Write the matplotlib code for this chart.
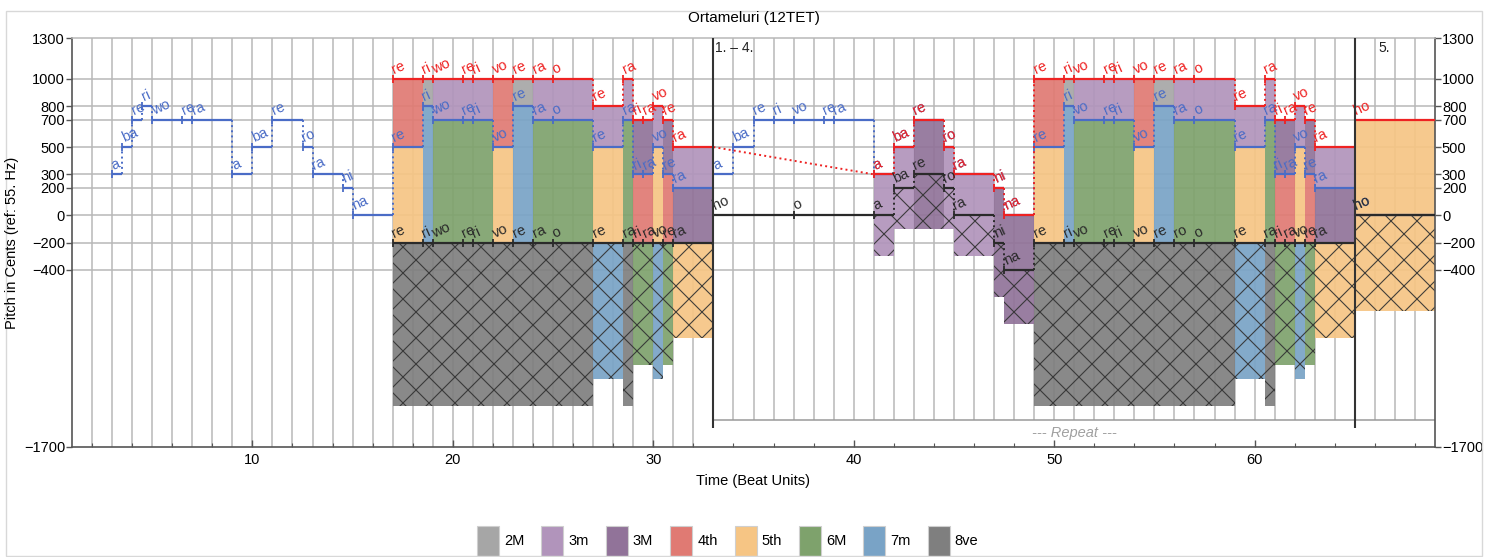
import matplotlib
matplotlib.use('Agg')
import matplotlib.pyplot as plt
from matplotlib.patches import Rectangle

# Render at dpi 78 so that the 'x' hatch spacing matches the reference;
# S converts sizes that were tuned for dpi 100 into points at dpi 78.
DPI = 78
S = 100 / DPI

plt.rcParams['font.family'] = ['Liberation Sans', 'DejaVu Sans']
plt.rcParams['hatch.linewidth'] = 0.8 * S

TITLE = "Ortameluri (12TET)"
YLABEL = "Pitch in Cents (ref: 55. Hz)"
XLABEL = "Time (Beat Units)"
yticks = [1300, 1000, 800, 700, 500, 300, 200, 0, -200, -400, -1700]
xticks = [10, 20, 30, 40, 50, 60]

interval_names = ['2M', '3m', '3M', '4th', '5th', '6M', '7m', '8ve']
interval_cents = [200, 300, 400, 500, 700, 900, 1000, 1200]
interval_colors = ['#a6a6a6', '#b194bb', '#917399', '#e07a73',
                   '#f6c584', '#7ea26c', '#79a3c6', '#7f7f7f']

END_TIME = 69

# ---- middle voice (blue, melody) ----
mid_starts = [3, 3.5, 4, 4.5, 5, 6.5, 7, 9, 10, 11, 12.5, 13, 14.5, 15,
              17, 18.5, 19, 20.5, 21, 22, 23, 24, 25, 27, 28.5, 29, 29.5, 30, 30.5, 31,
              33, 34, 35, 36, 37, 38.5, 39, 41, 42, 43, 44.5, 45, 47, 47.5,
              49, 50.5, 51, 52.5, 53, 54, 55, 56, 57, 59, 60.5, 61, 61.5, 62, 62.5, 63,
              65]
mid_pitch = [300, 500, 700, 800, 700, 700, 700, 300, 500, 700, 500, 300, 200, 0,
             500, 800, 700, 700, 700, 500, 800, 700, 700, 500, 700, 300, 300, 500, 300, 200,
             300, 500, 700, 700, 700, 700, 700, 300, 500, 700, 500, 300, 200, 0,
             500, 800, 700, 700, 700, 500, 800, 700, 700, 500, 700, 300, 300, 500, 300, 200,
             0]
mid_syll = ['a', 'ba', 're', 'ri', 'wo', 're', 'ra', 'a', 'ba', 're', 'ro', 'ra', 'ni', 'na',
            're', 'ri', 'wo', 're', 'ri', 'vo', 're', 'ra', 'o', 're', 'ra', 'ri', 'ra', 'vo', 're', 'ra',
            'a', 'ba', 're', 'ri', 'vo', 're', 'ra', 'a', 'ba', 're', 'ro', 'ra', 'ni', 'na',
            're', 'ri', 'vo', 're', 'ri', 'vo', 're', 'ra', 'o', 're', 'ra', 'ri', 'ra', 'vo', 're', 'ra',
            'ho']

# ---- top voice (red) ; None = rest ----
top_starts = [17, 18.5, 19, 20.5, 21, 22, 23, 24, 25, 27, 28.5, 29, 29.5, 30, 30.5, 31,
              33,
              41, 42, 43, 44.5, 45, 47, 47.5,
              49, 50.5, 51, 52.5, 53, 54, 55, 56, 57, 59, 60.5, 61, 61.5, 62, 62.5, 63,
              65]
top_pitch = [1000, 1000, 1000, 1000, 1000, 1000, 1000, 1000, 1000, 800, 1000, 700, 700, 800, 700, 500,
             None,
             300, 500, 700, 500, 300, 200, 0,
             1000, 1000, 1000, 1000, 1000, 1000, 1000, 1000, 1000, 800, 1000, 700, 700, 800, 700, 500,
             700]
top_syll = ['re', 'ri', 'wo', 're', 'ri', 'vo', 're', 'ra', 'o', 're', 'ra', 'ri', 'ra', 'vo', 're', 'ra',
            '',
            'a', 'ba', 're', 'ro', 'ra', 'ni', 'na',
            're', 'ri', 'vo', 're', 'ri', 'vo', 're', 'ra', 'o', 're', 'ra', 'ri', 'ra', 'vo', 're', 'ra',
            'ho']

# ---- bottom voice (black) ----
bot_starts = [17, 18.5, 19, 20.5, 21, 22, 23, 24, 25, 27, 28.5, 29, 29.5, 30, 30.5, 31,
              33, 37, 41, 42, 43, 44.5, 45, 47, 47.5,
              49, 50.5, 51, 52.5, 53, 54, 55, 56, 57, 59, 60.5, 61, 61.5, 62, 62.5, 63,
              65]
bot_pitch = [-200, -200, -200, -200, -200, -200, -200, -200, -200, -200, -200, -200, -200, -200, -200, -200,
             0, 0, 0, 200, 300, 200, 0, -200, -400,
             -200, -200, -200, -200, -200, -200, -200, -200, -200, -200, -200, -200, -200, -200, -200, -200,
             0]
bot_syll = ['re', 'ri', 'wo', 're', 'ri', 'vo', 're', 'ra', 'o', 're', 'ra', 'ri', 'ra', 'vo', 're', 'ra',
            'ho', 'o', 'a', 'ba', 're', 'ro', 'ra', 'ni', 'na',
            're', 'ri', 'vo', 're', 'ri', 'vo', 're', 'ro', 'o', 're', 'ra', 'ri', 'ra', 'vo', 're', 'ra',
            'ho']

TOP_COLOR = '#ee2222'
MID_COLOR = '#4a6cc6'
BOT_COLOR = '#2a2a2a'

W, H = 1496, 557
fig = plt.figure(figsize=(W / DPI, H / DPI), dpi=DPI)
L, R, T, B = 72, 1435, 38, 447
ax = fig.add_axes([L / W, 1 - B / H, (R - L) / W, (B - T) / H])
ax.set_xlim(1, END_TIME)
ax.set_ylim(-1700, 1300)

# grid
GRID = '#b8b8b8'
ax.vlines(list(range(2, 33)), -1700, 1300, color=GRID, lw=1.1 * S, zorder=0.5)
ax.vlines(list(range(34, 69)), -1500, 1300, color=GRID, lw=1.1 * S, zorder=0.5)
ax.hlines(yticks[1:-1], 1, END_TIME, color=GRID, lw=1.1 * S, zorder=0.5)
ax.hlines(-1500, 33, END_TIME, color='#9a9a9a', lw=1.1 * S, zorder=0.6)


def color_for(interval):
    return interval_colors[interval_cents.index(interval)]


def pitch_at(starts, pitches, t):
    ends = starts[1:] + [END_TIME]
    for s, e, p in zip(starts, ends, pitches):
        if s <= t < e:
            return p
    return None


# interval fills
bounds = sorted(set(top_starts + mid_starts + bot_starts + [END_TIME]))
for a, b in zip(bounds[:-1], bounds[1:]):
    m = (a + b) / 2
    tp = pitch_at(top_starts, top_pitch, m)
    mp = pitch_at(mid_starts, mid_pitch, m)
    bp = pitch_at(bot_starts, bot_pitch, m)
    if tp is None or mp is None or bp is None:
        continue
    if tp > mp:
        ax.fill_between([a, b], mp, tp, facecolor=color_for(tp - mp), alpha=0.92, lw=0, zorder=1)
    if mp > bp:
        ax.fill_between([a, b], bp, mp, facecolor=color_for(mp - bp), alpha=0.92, lw=0, zorder=1)
    outer = tp - bp
    if outer > 0:
        ax.fill_between([a, b], bp - outer, bp, facecolor=color_for(outer), alpha=0.92,
                        hatch='x', edgecolor=(0.2, 0.2, 0.2, 0.5), lw=0, zorder=1)


def draw_voice(starts, pitches, sylls, color, z):
    ends = starts[1:] + [END_TIME]
    prev = None
    for s, e, p, lab in zip(starts, ends, pitches, sylls):
        if p is None:
            continue
        ax.plot([s, e], [p, p], color=color, lw=1.6 * S, solid_capstyle='butt', zorder=z)
        ax.plot([s], [p], marker='|', ms=6 * S, mew=1.3 * S, color=color, zorder=z)
        if prev is not None:
            px, pp = prev
            if px == s:
                if pp != p:
                    ax.plot([s, s], [pp, p], ':', color=color, lw=1.4 * S, zorder=z)
            else:
                ax.plot([px, s], [pp, p], ':', color=color, lw=1.4 * S, zorder=z)
        prev = (e, p)
        ax.annotate(lab, (s, p), xytext=(2 * S, 1.5 * S), textcoords='offset points',
                    rotation=24, rotation_mode='anchor', ha='left', va='bottom',
                    color=color, fontsize=10.5 * S, zorder=z + 1)


draw_voice(mid_starts, mid_pitch, mid_syll, MID_COLOR, 3)
draw_voice(bot_starts, bot_pitch, bot_syll, BOT_COLOR, 3.2)
draw_voice(top_starts, top_pitch, top_syll, TOP_COLOR, 3.4)

# repeat markers
ax.vlines([33, 65], -1560, 1300, color='#333333', lw=1.5 * S, zorder=5, clip_on=False)
ax.text(33.1, 1225, '1. \u2013 4.', fontsize=10 * S, ha='left', va='center', color='#222222', zorder=6)
ax.text(66.2, 1225, '5.', fontsize=10 * S, ha='left', va='center', color='#222222', zorder=6)
ax.text(51, -1600, '--- Repeat ---', fontsize=10.5 * S, style='italic', color='#a0a0a0',
        ha='center', va='center', zorder=6)

# axes styling
ax.set_yticks(yticks)
ax.set_yticklabels([str(v).replace('-', '\u2212') for v in yticks])
ax.set_xticks(xticks)
ax.set_xticks(list(range(2, 69, 2)), minor=True)
ax.tick_params(axis='y', which='both', left=True, right=True, labelleft=True, labelright=True,
               direction='out', length=4 * S, width=1 * S, color='#555555', labelsize=10.5 * S, pad=1 * S)
ax.tick_params(axis='x', which='major', direction='in', length=5 * S, width=1 * S, color='#555555',
               labelsize=10.5 * S, pad=4 * S)
ax.tick_params(axis='x', which='minor', direction='in', length=3 * S, width=0.8 * S, color='#555555')
for side in ['left', 'right', 'bottom']:
    ax.spines[side].set_color('#555555')
    ax.spines[side].set_linewidth(1.2 * S)
ax.spines['top'].set_color(GRID)
ax.spines['top'].set_linewidth(1.1 * S)

fig.text(753.5 / W, 1 - 18 / H, TITLE, ha='center', va='center', fontsize=11 * S)
fig.text(753.5 / W, 1 - 481 / H, XLABEL, ha='center', va='center', fontsize=10.5 * S)
fig.text(12 / W, 1 - 242.5 / H, YLABEL, ha='center', va='center', rotation=90, fontsize=10.5 * S)

# legend
leg_x0, leg_dx, leg_w, leg_top = 477, 64.4, 22, 526
for i, (name, col) in enumerate(zip(interval_names, interval_colors)):
    x = leg_x0 + i * leg_dx
    fig.add_artist(Rectangle((x / W, 0), leg_w / W, (H - leg_top) / H, transform=fig.transFigure,
                             facecolor=col, edgecolor='#cfcfcf', lw=0.8 * S))
    fig.text((x + leg_w + 5) / W, 1 - 541 / H, name, ha='left', va='center', fontsize=10.5 * S)

# outer frame
fig.add_artist(Rectangle((6 / W, 1 - 556 / H), (1482 - 6) / W, (556 - 11) / H,
                         transform=fig.transFigure, fill=False, edgecolor='#d8d8d8', lw=1 * S))

fig.savefig('out.png', dpi=DPI)
